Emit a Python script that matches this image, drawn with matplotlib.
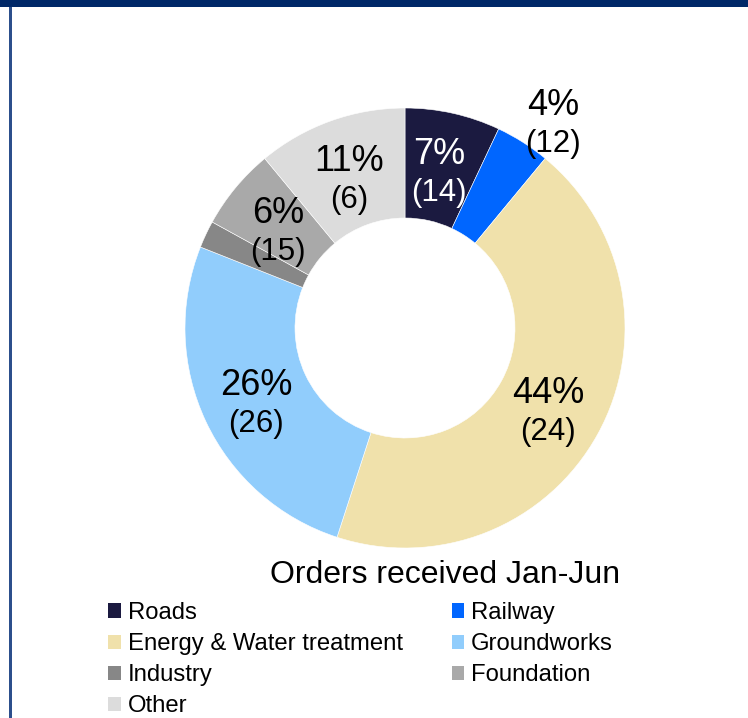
import matplotlib.pyplot as plt
from matplotlib.patches import Patch, Rectangle

plt.rcParams['font.family'] = ['Liberation Sans', 'DejaVu Sans']

# order segments
segments = ["Roads", "Railway", "Energy & Water treatment", "Groundworks",
            "Industry", "Foundation", "Other"]
share = [7, 4, 44, 26, 2, 6, 11]          # % of orders received
bracket_vals = [14, 12, 24, 26, 3, 15, 6]  # value shown in brackets
colors = ["#1b1a40", "#0066ff", "#f0e1ab", "#91cdfc",
          "#878787", "#a9a9a9", "#dcdcdc"]

# label anchor for each slice (data units, ring radius = 1)
label_xy = [(0.155, 0.71), (0.673, 0.93), (0.65, -0.377), (-0.677, -0.341),
            (-1.05, 0.377), (-0.577, 0.441), (-0.255, 0.677)]
label_col = ["white", "black", "black", "black", "black", "black", "black"]

W, H = 748, 718
fig = plt.figure(figsize=(W / 100, H / 100), dpi=100)

# frame: navy bar on top, thin rule down the left side
fig.patches.append(Rectangle((0, 1 - 7 / H), 1, 7 / H, transform=fig.transFigure,
                             facecolor="#002868", edgecolor="none"))
fig.patches.append(Rectangle((9 / W, 0), 2.5 / W, 1 - 7 / H, transform=fig.transFigure,
                             facecolor="#2c4f8c", edgecolor="none"))

cx, cy, r = 405, 328, 220
ax = fig.add_axes([(cx - r) / W, (H - cy - r) / H, 2 * r / W, 2 * r / H])
ax.pie(share, colors=colors, startangle=90, counterclock=False, radius=1,
       wedgeprops=dict(width=0.5, edgecolor="white", linewidth=0.4))
ax.set_xlim(-1, 1)
ax.set_ylim(-1, 1)
ax.set_aspect("equal")

for p, b, (x, y), c in zip(share, bracket_vals, label_xy, label_col):
    ax.annotate(f"{p}%", (x, y), xytext=(0, 5.8), textcoords="offset points",
                ha="center", va="baseline", fontsize=26, color=c)
    ax.annotate(f"({b})", (x, y), xytext=(0, -20.9), textcoords="offset points",
                ha="center", va="baseline", fontsize=22.5, color=c)

fig.text(445 / W, 1 - 583 / H, "Orders received Jan-Jun", ha="center",
         va="baseline", fontsize=23)

# legend laid out row by row
handles = [Patch(facecolor=c, edgecolor="none") for c in colors]
order = [0, 2, 4, 6, 1, 3, 5]
fig.legend([handles[i] for i in order], [segments[i] for i in order],
           loc="upper left", bbox_to_anchor=(108 / W, 1 - 602 / H), ncol=2,
           frameon=False, fontsize=17.2, borderpad=0, borderaxespad=0,
           handlelength=0.54, handleheight=0.54, handletextpad=0.28,
           labelspacing=0.38, columnspacing=2.05)

fig.savefig("out.png", dpi=100)
